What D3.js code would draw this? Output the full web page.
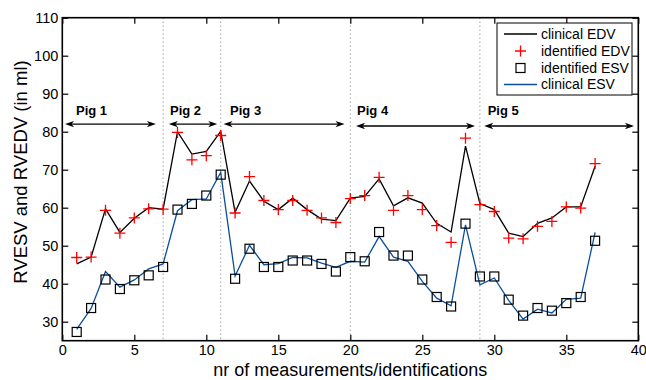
<!DOCTYPE html>
<html>
<head>
<meta charset="utf-8">
<script src="https://cdn.jsdelivr.net/npm/d3@7"></script>
<style>
  html, body { margin: 0; padding: 0; background: #fff; }
  svg { display: block; font-family: "Liberation Sans", Arial, Helvetica, sans-serif; }
</style>
</head>
<body>
<svg id="chart" width="646" height="380"></svg>
<script>
// ---- data ----
const measurement = d3.range(1, 38);
const clinicalEDV   = [45.2,47.0,59.7,53.5,57.2,60.0,59.6,80.0,74.1,74.8,80.1,58.8,67.0,61.7,59.5,62.5,59.5,57.0,56.6,62.5,63.0,67.6,60.5,62.6,61.2,55.9,53.6,76.2,61.1,59.5,53.3,52.4,55.9,57.3,60.2,60.2,70.9];
const identifiedEDV = [46.9,47.0,59.3,53.3,57.3,59.7,59.6,79.8,72.6,73.7,79.0,58.6,68.2,61.9,59.5,61.9,59.3,57.3,56.1,62.4,63.2,68.0,59.3,63.2,59.5,55.3,50.9,78.3,60.8,59.0,52.0,51.8,55.1,56.4,60.2,59.9,71.6];
const identifiedESV = [27.3,33.6,41.1,38.6,40.9,42.2,44.4,59.5,61.0,63.2,68.7,41.3,49.2,44.4,44.4,46.1,46.1,45.2,43.2,47.0,45.9,53.6,47.4,47.4,41.1,36.5,34.0,55.8,41.9,41.9,35.8,31.6,33.6,32.9,34.9,36.5,51.3];
const clinicalESV   = [28.0,33.5,43.2,39.1,41.0,43.9,45.2,59.2,62.1,62.3,69.3,42.0,50.1,45.0,45.3,46.9,46.8,45.4,44.3,45.9,45.7,52.4,47.0,45.9,40.6,36.2,34.2,55.5,39.7,41.5,35.6,30.7,33.3,32.3,35.9,36.2,53.5];

const pigLabels   = ["Pig 1","Pig 2","Pig 3","Pig 4","Pig 5"];
const pigLabelX   = [0.95, 7.48, 11.65, 20.47, 29.54];
const pigArrowFrom= [0.19, 7.4, 11.2, 20.4, 29.3];
const pigArrowTo  = [6.5, 10.76, 19.6, 28.66, 39.7];
const pigArrowY   = [82, 82, 82, 81.5, 81.5];
const pigLabelY   = 84.5;
const dividers    = [7, 11, 20, 29];

const xTicks = [0,5,10,15,20,25,30,35,40];
const yTicks = [30,40,50,60,70,80,90,100,110];

const legendLabels = ["clinical EDV","identified EDV","identified ESV","clinical ESV"];

// ---- layout ----
const L = 62.3, R = 638.3, T = 17.7, B = 340.7;
const x = d3.scaleLinear().domain([0, 40]).range([L, R]);
const y = d3.scaleLinear().domain([25, 110]).range([B, T]);

const svg = d3.select("#chart");
const blue = "#0b4f9c";

// dividers
svg.append("g").selectAll("line").data(dividers).join("line")
  .attr("x1", d => x(d)).attr("x2", d => x(d))
  .attr("y1", T).attr("y2", B)
  .attr("stroke", "#777").attr("stroke-width", 1)
  .attr("stroke-dasharray", "1,3");

// lines
const line = vals => d3.line().x((d, i) => x(measurement[i])).y(d => y(d))(vals);
svg.append("path").attr("d", line(clinicalEDV)).attr("fill", "none")
  .attr("stroke", "#000").attr("stroke-width", 1.3);
svg.append("path").attr("d", line(clinicalESV)).attr("fill", "none")
  .attr("stroke", blue).attr("stroke-width", 1.3);

// markers
const plusSize = 5.5;
svg.append("g").selectAll("path").data(identifiedEDV).join("path")
  .attr("d", (d, i) => {
    const cx = x(measurement[i]), cy = y(d);
    return `M${cx - plusSize},${cy}H${cx + plusSize}M${cx},${cy - plusSize}V${cy + plusSize}`;
  })
  .attr("stroke", "#ff0000").attr("stroke-width", 1.3).attr("fill", "none");

const sq = 4.5;
svg.append("g").selectAll("rect").data(identifiedESV).join("rect")
  .attr("x", (d, i) => x(measurement[i]) - sq).attr("y", d => y(d) - sq)
  .attr("width", sq * 2).attr("height", sq * 2)
  .attr("fill", "none").attr("stroke", "#000").attr("stroke-width", 1.2);

// pig annotations
function arrowHead(px, py, dir) {
  const len = 9, w = 3.2, notch = 6.5;
  return `M${px},${py}L${px - dir * len},${py - w}L${px - dir * notch},${py}L${px - dir * len},${py + w}Z`;
}
const ann = svg.append("g");
pigLabels.forEach((lab, i) => {
  const x1 = x(pigArrowFrom[i]), x2 = x(pigArrowTo[i]), yy = y(pigArrowY[i]);
  ann.append("line").attr("x1", x1 + 3).attr("x2", x2 - 3).attr("y1", yy).attr("y2", yy)
    .attr("stroke", "#000").attr("stroke-width", 1.3);
  ann.append("path").attr("d", arrowHead(x1, yy, -1)).attr("fill", "#000");
  ann.append("path").attr("d", arrowHead(x2, yy, 1)).attr("fill", "#000");
  ann.append("text").attr("x", x(pigLabelX[i])).attr("y", y(pigLabelY))
    .attr("font-size", 13).attr("font-weight", "bold").text(lab);
});

// axes
const fs = 14.5;
const xAxisG = svg.append("g").attr("transform", `translate(0,${B})`)
  .call(d3.axisBottom(x).tickValues(xTicks).tickSize(-6).tickPadding(10).tickFormat(d3.format("d")));
const yAxisG = svg.append("g").attr("transform", `translate(${L},0)`)
  .call(d3.axisLeft(y).tickValues(yTicks).tickSize(-6).tickPadding(10).tickFormat(d3.format("d")));
const xTopG = svg.append("g").attr("transform", `translate(0,${T})`)
  .call(d3.axisTop(x).tickValues(xTicks).tickSize(-6).tickFormat(""));
const yRightG = svg.append("g").attr("transform", `translate(${R},0)`)
  .call(d3.axisRight(y).tickValues(yTicks).tickSize(-6).tickFormat(""));
[xAxisG, yAxisG, xTopG, yRightG].forEach(g => {
  g.select(".domain").remove();
  g.selectAll(".tick line").attr("stroke", "#000").attr("stroke-width", 1.2);
  g.selectAll("text").attr("font-size", fs).attr("fill", "#000")
    .attr("font-family", "'Liberation Sans', Arial, sans-serif");
});
xAxisG.selectAll("text").attr("dy", null).attr("y", 14.5);
yAxisG.selectAll("text").attr("x", -4);

svg.append("rect").attr("x", L).attr("y", T).attr("width", R - L).attr("height", B - T)
  .attr("fill", "none").attr("stroke", "#000").attr("stroke-width", 1.6);

// axis labels
svg.append("text").attr("x", (L + R) / 2).attr("y", 375.5).attr("text-anchor", "middle")
  .attr("font-size", 18).text("nr of measurements/identifications");
svg.append("text").attr("transform", `translate(27,${172}) rotate(-90)`)
  .attr("text-anchor", "middle").attr("font-size", 18.5).text("RVESV and RVEDV (in ml)");

// legend
const lg = svg.append("g");
const lx = 497, ly = 23, lw = 135, lh = 72;
lg.append("rect").attr("x", lx).attr("y", ly).attr("width", lw).attr("height", lh)
  .attr("fill", "#fff").attr("stroke", "#000").attr("stroke-width", 1);
const rowY = [34, 51, 68, 84.5];
const sx1 = 504, sx2 = 537, scx = 520.5;
lg.append("line").attr("x1", sx1).attr("x2", sx2).attr("y1", rowY[0]).attr("y2", rowY[0])
  .attr("stroke", "#000").attr("stroke-width", 1.3);
lg.append("path").attr("d", `M${scx - plusSize},${rowY[1]}H${scx + plusSize}M${scx},${rowY[1] - plusSize}V${rowY[1] + plusSize}`)
  .attr("stroke", "#ff0000").attr("stroke-width", 1.3);
lg.append("rect").attr("x", scx - sq).attr("y", rowY[2] - sq).attr("width", sq * 2).attr("height", sq * 2)
  .attr("fill", "none").attr("stroke", "#000").attr("stroke-width", 1.2);
lg.append("line").attr("x1", sx1).attr("x2", sx2).attr("y1", rowY[3]).attr("y2", rowY[3])
  .attr("stroke", blue).attr("stroke-width", 1.3);
lg.selectAll("text").data(legendLabels).join("text")
  .attr("x", 541).attr("y", (d, i) => rowY[i]).attr("dy", "0.35em")
  .attr("font-size", 14).text(d => d);
</script>
</body>
</html>
